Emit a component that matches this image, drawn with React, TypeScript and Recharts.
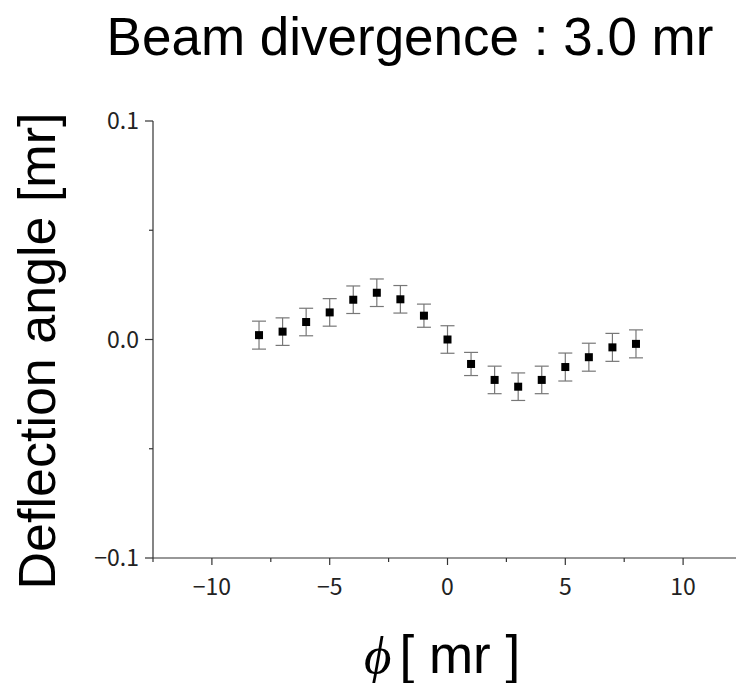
import { ErrorBar, Scatter, ScatterChart, XAxis, YAxis } from "recharts";

const PHI = [-8, -7, -6, -5, -4, -3, -2, -1, 0, 1, 2, 3, 4, 5, 6, 7, 8];
const DEFLECTION = [
  0.002, 0.0036, 0.008, 0.0124, 0.0182, 0.0214, 0.0184, 0.0109, 0.0, -0.0112, -0.0185, -0.0216, -0.0185, -0.0126,
  -0.0081, -0.0036, -0.002,
];
const ERROR = [
  0.0064, 0.0063, 0.0063, 0.0063, 0.0063, 0.0063, 0.0063, 0.0053, 0.0063, 0.0053, 0.0063, 0.0063, 0.0063, 0.0064,
  0.0064, 0.0064, 0.0064,
];

const X_TICKS = [-12.5, -10, -7.5, -5, -2.5, 0, 2.5, 5, 7.5, 10, 12.5];
const Y_TICKS = [-0.1, -0.05, 0, 0.05, 0.1];

const AXIS = "#333";
const TICK_FONT = "'Noto Sans CJK JP', 'Liberation Sans', sans-serif";
const LABEL_FONT = "'Liberation Sans', Arial, sans-serif";

const fmt = (v: number, digits: number) => v.toFixed(digits).replace("-", "\u2212");

function XTick({ x, y, payload }: any) {
  const major = payload.value % 5 === 0;
  return (
    <g>
      <line x1={x} x2={x} y1={y} y2={y + (major ? 7 : 4)} stroke={AXIS} strokeWidth={1.2} />
      {major && (
        <text x={x} y={y + 37} textAnchor="middle" fontSize={23} fontFamily={TICK_FONT} fill="#222">
          {fmt(payload.value, 0)}
        </text>
      )}
    </g>
  );
}

function YTick({ x, y, payload }: any) {
  const major = Math.abs((payload.value * 10) % 1) < 1e-9;
  return (
    <g>
      <line x1={x} x2={x - (major ? 8 : 4)} y1={y} y2={y} stroke={AXIS} strokeWidth={1.2} />
      {major && (
        <text x={x - 14} y={y + 8} textAnchor="end" fontSize={23} fontFamily={TICK_FONT} fill="#222">
          {fmt(payload.value, 1)}
        </text>
      )}
    </g>
  );
}

const square = (p: any) => <rect x={p.cx - 4} y={p.cy - 4} width={8} height={8} fill="#000" />;

export default function App() {
  const rows = PHI.map((phi, i) => ({ phi, value: DEFLECTION[i], err: ERROR[i] }));

  return (
    <div style={{ position: "absolute", left: 0, top: 0, width: 736, height: 683, overflow: "hidden", background: "#fff" }}>
      <div
        style={{
          position: "absolute",
          left: 0,
          width: 820,
          top: 10,
          textAlign: "center",
          fontFamily: LABEL_FONT,
          fontSize: 53,
          lineHeight: "53px",
          color: "#000",
        }}
      >
        Beam divergence : 3.0 mr
      </div>

      <ScatterChart width={742} height={683} margin={{ top: 121, right: 0, bottom: 0, left: 0 }}>
        <XAxis
          type="number"
          dataKey="phi"
          domain={[-12.5, 12.5]}
          ticks={X_TICKS}
          interval={0}
          height={125}
          stroke={AXIS}
          strokeWidth={1.2}
          tickLine={false}
          tickSize={0}
          tickMargin={0}
          tick={<XTick />}
        />
        <YAxis
          type="number"
          dataKey="value"
          domain={[-0.1, 0.1]}
          ticks={Y_TICKS}
          interval={0}
          width={153}
          stroke={AXIS}
          strokeWidth={1.2}
          tickLine={false}
          tickSize={0}
          tickMargin={0}
          tick={<YTick />}
        />
        <Scatter data={rows} shape={square} isAnimationActive={false}>
          <ErrorBar dataKey="err" direction="y" width={7} stroke="#777" strokeWidth={1.2} />
        </Scatter>
      </ScatterChart>

      <div
        style={{
          position: "absolute",
          left: 37,
          top: 351,
          transform: "translate(-50%, -50%) rotate(-90deg)",
          whiteSpace: "nowrap",
          fontFamily: LABEL_FONT,
          fontSize: 52,
          lineHeight: "52px",
          color: "#000",
        }}
      >
        Deflection angle [mr]
      </div>

      <div
        style={{
          position: "absolute",
          left: 364,
          top: 628,
          whiteSpace: "nowrap",
          fontFamily: LABEL_FONT,
          fontSize: 53,
          lineHeight: "53px",
          color: "#000",
        }}
      >
        <span style={{ fontFamily: "'Liberation Serif', serif", fontStyle: "italic", marginRight: 8 }}>ϕ</span>[ mr ]
      </div>
    </div>
  );
}
